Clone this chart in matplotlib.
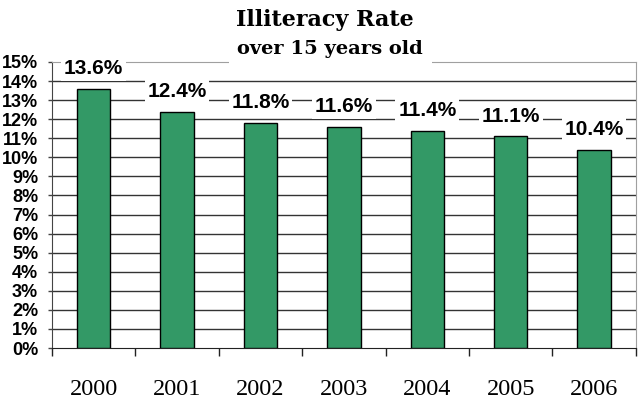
import matplotlib.pyplot as plt
import numpy as np

years = ["2000", "2001", "2002", "2003", "2004", "2005", "2006"]
rates = [13.6, 12.4, 11.8, 11.6, 11.4, 11.1, 10.4]
value_labels = ["13.6%", "12.4%", "11.8%", "11.6%", "11.4%", "11.1%", "10.4%"]
y_ticks = list(range(0, 16))

fig = plt.figure(figsize=(6.39, 4.05), dpi=100)
ax = fig.add_axes([0.0814, 0.1407, 0.9136, 0.7063])

x = np.arange(len(years))
ax.bar(x, rates, width=0.4, color="#339966", edgecolor="black", linewidth=1, zorder=3)

ax.set_xlim(-0.5, len(years) - 0.5)
ax.set_ylim(0, 15)

# gridlines
for v in y_ticks[1:-1]:
    ax.axhline(v, color="#333333", linewidth=1, zorder=1)

ax.spines["top"].set_color("#a0a0a0")
ax.spines["right"].set_color("#a0a0a0")
ax.spines["left"].set_color("#444444")
ax.spines["bottom"].set_color("#222222")

ax.set_yticks(y_ticks)
ax.set_yticklabels([f"{v}%" for v in y_ticks], fontfamily="Liberation Sans",
                   fontweight="bold", fontsize=13)
ax.tick_params(axis="y", direction="out", length=3, width=1, color="#444444", pad=7)

ax.set_xticks(x)
ax.set_xticklabels(years, fontfamily="Liberation Serif", fontsize=17.5)
ax.tick_params(axis="x", which="major", length=0, pad=22)
ax.set_xticks(np.arange(-0.5, len(years)), minor=True)
ax.tick_params(axis="x", which="minor", direction="out", length=5.5, width=1, color="#222222")

for xi, r, lab in zip(x, rates, value_labels):
    ax.annotate(lab, (xi, r), xytext=(0, 14.5), textcoords="offset points",
                ha="center", va="center", fontfamily="Liberation Sans",
                fontweight="bold", fontsize=15, zorder=5,
                bbox=dict(facecolor="white", edgecolor="none", pad=2))

fig.text(0.509, 0.951, "Illiteracy Rate", ha="center", va="center",
         fontfamily="DejaVu Serif", fontweight="bold", fontsize=16)
fig.text(0.517, 0.879, "over 15 years old", ha="center", va="center",
         fontfamily="DejaVu Serif", fontweight="bold", fontsize=14, zorder=10,
         bbox=dict(facecolor="white", edgecolor="none", pad=6))

fig.savefig("out.png", dpi=100)
